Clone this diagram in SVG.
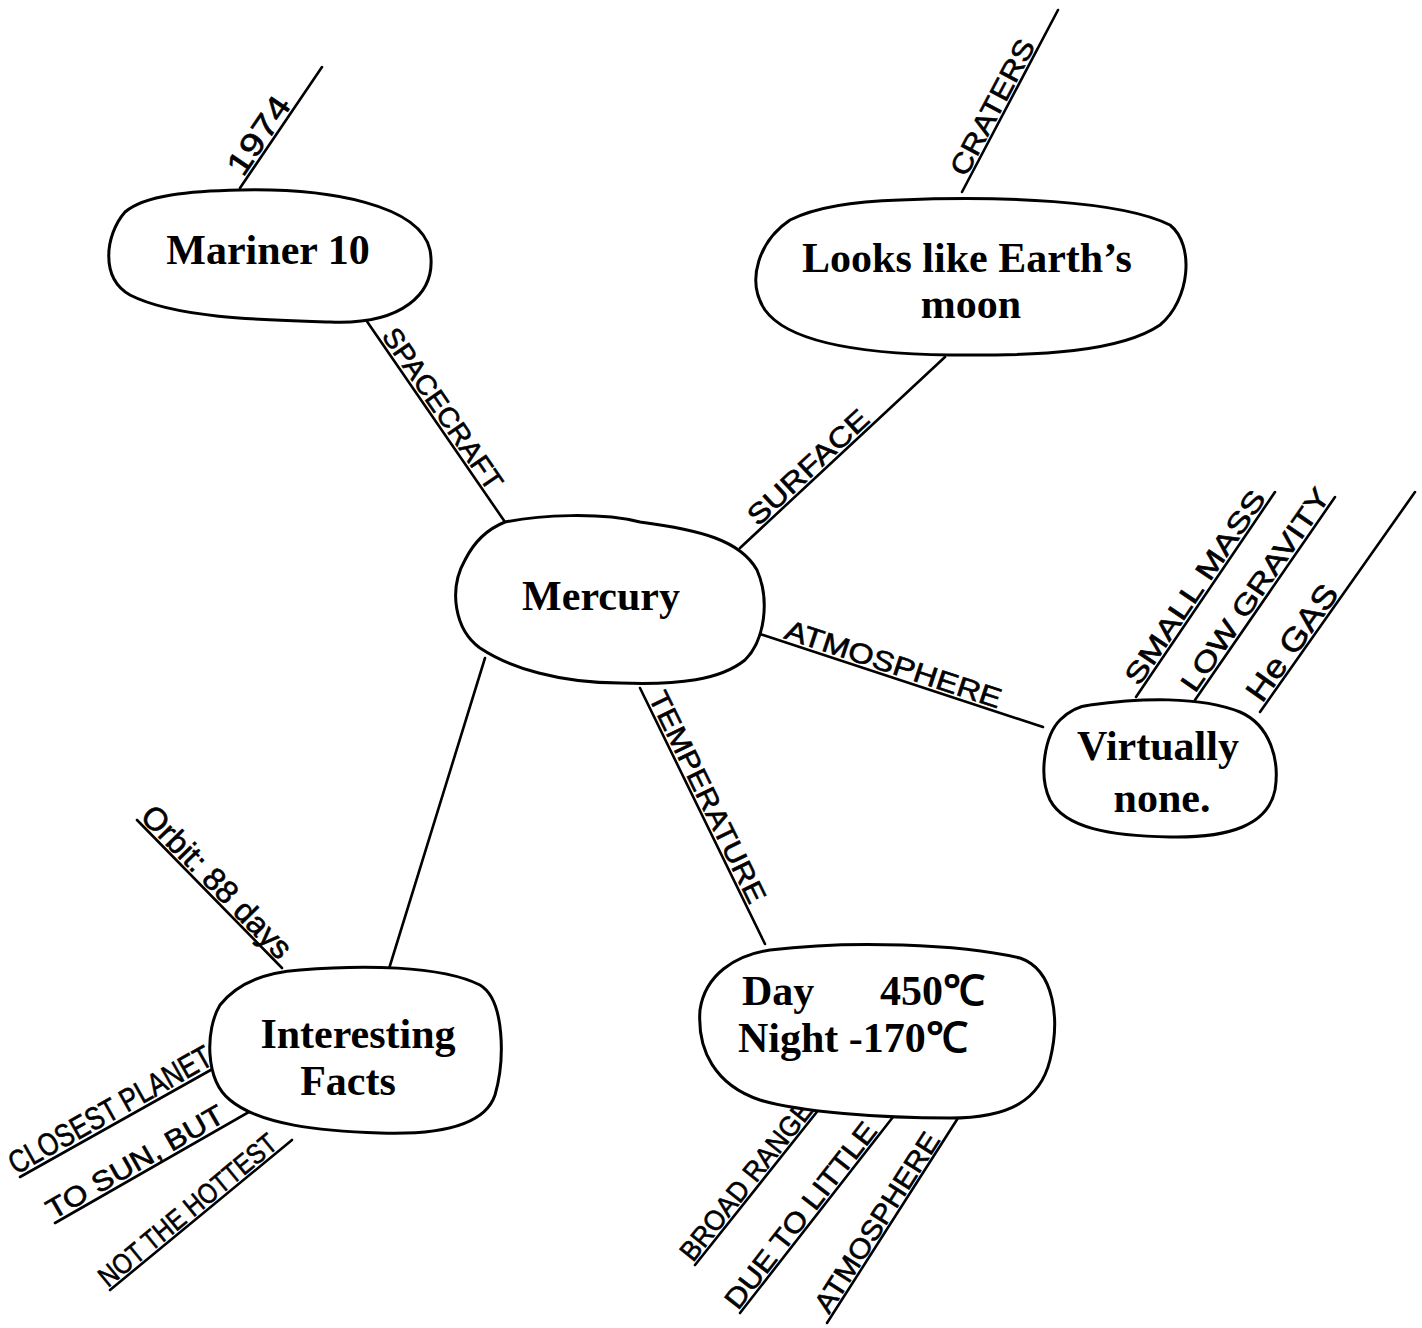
<svg xmlns="http://www.w3.org/2000/svg" width="1422" height="1328" viewBox="0 0 1422 1328">
<style>
.n{fill:#fff;stroke:#000;stroke-width:3;stroke-linejoin:round}
.c{stroke:#000;stroke-width:2.6;fill:none;stroke-linecap:round}
.t{font-family:"Liberation Serif","Times New Roman",serif;font-weight:bold;font-size:42px;fill:#000;text-anchor:middle}
.ts{font-family:"Liberation Serif","Times New Roman",serif;font-weight:bold;font-size:42px;fill:#000}
.h{font-family:"Liberation Sans",Arial,sans-serif;font-size:28px;fill:#000;stroke:#000;stroke-width:0.6}
.hb{font-size:32px}
</style>
<rect width="1422" height="1328" fill="#fff"/>
<g id="connectors">
  <line class="c" x1="366" y1="320" x2="505" y2="522"/>
  <line class="c" x1="740" y1="548" x2="945" y2="357"/>
  <line class="c" x1="757" y1="633" x2="1043" y2="727"/>
  <line class="c" x1="640" y1="688" x2="765" y2="944"/>
  <line class="c" x1="485" y1="658" x2="388" y2="972"/>
  <line class="c" x1="240" y1="188" x2="322" y2="67"/>
  <line class="c" x1="962" y1="192" x2="1058" y2="10"/>
  <line class="c" x1="1136" y1="697" x2="1275" y2="492"/>
  <line class="c" x1="1195" y1="700" x2="1335" y2="497"/>
  <line class="c" x1="1260" y1="712" x2="1415" y2="492"/>
  <line class="c" x1="137" y1="820" x2="282" y2="968"/>
  <line class="c" x1="20" y1="1177" x2="225" y2="1062"/>
  <line class="c" x1="55" y1="1223" x2="256" y2="1108"/>
  <line class="c" x1="110" y1="1290" x2="292" y2="1140"/>
  <line class="c" x1="695" y1="1265" x2="820" y2="1108"/>
  <line class="c" x1="740" y1="1313" x2="893" y2="1117"/>
  <line class="c" x1="827" y1="1323" x2="958" y2="1118"/>
</g>
<g id="labels">
  <text class="h" x="381" y="336" transform="rotate(55.5 381 336)" textLength="190" lengthAdjust="spacingAndGlyphs">SPACECRAFT</text>
  <text class="h" x="758" y="527" transform="rotate(-43 758 527)" textLength="155" lengthAdjust="spacingAndGlyphs">SURFACE</text>
  <text class="h" x="783" y="638" transform="rotate(18.2 783 638)" textLength="226" lengthAdjust="spacingAndGlyphs">ATMOSPHERE</text>
  <text class="h" x="648" y="697" transform="rotate(64 648 697)" textLength="232" lengthAdjust="spacingAndGlyphs">TEMPERATURE</text>
  <text class="h hb" x="243" y="178" transform="rotate(-55.9 243 178)" textLength="88" lengthAdjust="spacingAndGlyphs">1974</text>
  <text class="h" x="966" y="178" transform="rotate(-62.2 966 178)" textLength="150" lengthAdjust="spacingAndGlyphs">CRATERS</text>
  <text class="h" x="1139" y="687" transform="rotate(-55.9 1139 687)" textLength="228" lengthAdjust="spacingAndGlyphs">SMALL MASS</text>
  <text class="h" x="1195" y="694" transform="rotate(-55.4 1195 694)" textLength="240" lengthAdjust="spacingAndGlyphs">LOW GRAVITY</text>
  <text class="h hb" x="1262" y="704" transform="rotate(-54.8 1262 704)" textLength="135" lengthAdjust="spacingAndGlyphs">He GAS</text>
  <text class="h hb" x="139" y="818" transform="rotate(45.6 139 818)" textLength="200" lengthAdjust="spacingAndGlyphs">Orbit: 88 days</text>
  <text class="h hb" x="16" y="1175" transform="rotate(-29.3 16 1175)" textLength="228" lengthAdjust="spacingAndGlyphs">CLOSEST PLANET</text>
  <text class="h" x="53" y="1220" transform="rotate(-29.8 53 1220)" textLength="200" lengthAdjust="spacingAndGlyphs">TO SUN, BUT</text>
  <text class="h" x="108" y="1288" transform="rotate(-39.5 108 1288)" textLength="222" lengthAdjust="spacingAndGlyphs">NOT THE HOTTEST</text>
  <text class="h" x="693" y="1263" transform="rotate(-51.5 693 1263)" textLength="195" lengthAdjust="spacingAndGlyphs">BROAD RANGE</text>
  <text class="h" x="738" y="1311" transform="rotate(-52 738 1311)" textLength="228" lengthAdjust="spacingAndGlyphs">DUE TO LITTLE</text>
  <text class="h" x="829" y="1315" transform="rotate(-57.4 829 1315)" textLength="208" lengthAdjust="spacingAndGlyphs">ATMOSPHERE</text>
</g>
<g id="mariner">
  <path class="n" d="M240,190 C330,188 420,205 430,250 C438,295 400,325 330,322 C260,320 175,318 130,295 C100,278 105,235 125,212 C145,195 190,191 240,190 Z"/>
  <text class="t" x="268" y="264">Mariner  10</text>
</g>
<g id="looks">
  <path class="n" d="M900,200 C1000,196 1120,200 1170,225 C1195,245 1190,300 1160,325 C1120,352 1040,356 950,355 C870,354 790,345 765,310 C745,280 760,240 790,220 C820,205 860,201 900,200 Z"/>
  <text class="t" x="967" y="272">Looks like Earth’s</text>
  <text class="t" x="971" y="318">moon</text>
</g>
<g id="mercury">
  <path class="n" d="M505,522 C540,515 600,512 640,522 C700,530 740,540 757,570 C770,600 765,640 745,660 C720,680 680,685 620,683 C560,683 510,668 480,648 C455,630 448,590 465,560 C475,540 490,528 505,522 Z"/>
  <text class="t" x="601" y="610">Mercury</text>
</g>
<g id="virtually">
  <path class="n" d="M1090,705 C1140,698 1200,696 1240,712 C1270,725 1280,760 1275,790 C1268,825 1230,838 1170,837 C1110,836 1065,828 1050,800 C1038,775 1045,735 1060,720 C1070,710 1080,706 1090,705 Z"/>
  <text class="t" x="1158" y="760">Virtually</text>
  <text class="t" x="1162" y="812">none.</text>
</g>
<g id="temperature">
  <path class="n" d="M770,950 C850,940 960,944 1020,958 C1055,970 1060,1020 1050,1060 C1040,1100 1010,1118 950,1118 C880,1118 800,1112 760,1100 C715,1085 697,1050 700,1010 C705,975 735,955 770,950 Z"/>
  <text class="ts" x="742" y="1005">Day</text>
  <text class="ts" x="880" y="1005">450℃</text>
  <text class="ts" x="738" y="1052">Night  -170℃</text>
</g>
<g id="facts">
  <path class="n" d="M300,970 C360,965 440,965 480,985 C505,1000 505,1060 495,1095 C485,1125 440,1135 380,1133 C320,1131 260,1125 230,1100 C205,1080 205,1030 220,1005 C240,980 270,972 300,970 Z"/>
  <text class="t" x="358" y="1048">Interesting</text>
  <text class="t" x="348" y="1095">Facts</text>
</g>
</svg>
